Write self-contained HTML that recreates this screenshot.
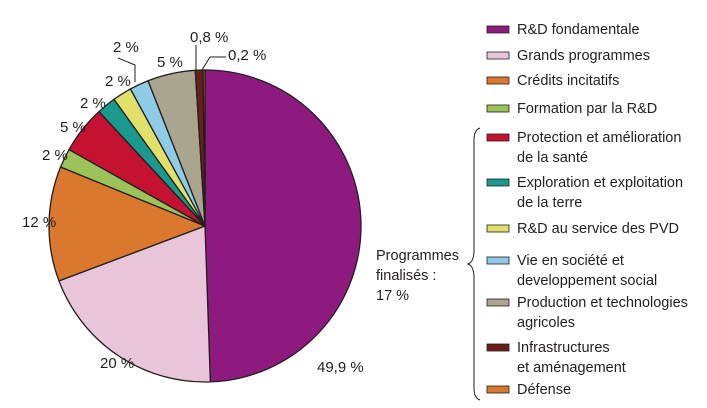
<!DOCTYPE html>
<html><head><meta charset="utf-8"><style>
body{margin:0;background:#fff;width:707px;height:403px;overflow:hidden}
svg text{font-family:"Liberation Sans",sans-serif;fill:#231f20}
</style></head><body>
<svg id="chart" width="707" height="403">
<g id="slices"></g>
<g id="labels" font-size="15"></g>
<g id="legend" font-size="14.5"></g>
<path d="M480,128 Q474,130 474,140 L474,250 Q474,262 468,264 Q474,266 474,278 L474,388 Q474,398 480,400" fill="none" stroke="#231f20" stroke-width="1"/>
<text x="376" y="260" font-size="14.5">Programmes</text>
<text x="376" y="280" font-size="14.5">finalisés :</text>
<text x="376" y="300" font-size="14.5">17 %</text>
</svg>
<script>
const categories=["R&D fondamentale","Grands programmes","Crédits incitatifs","Formation par la R&D","Protection et amélioration|de la santé","Exploration et exploitation|de la terre","R&D au service des PVD","Vie en société et|developpement social","Production et technologies|agricoles","Infrastructures|et aménagement","Défense"];
const values=[49.9,20,12,2,5,2,2,2,5,0.8,0.2];
const valueLabels=["49,9 %","20 %","12 %","2 %","5 %","2 %","2 %","2 %","5 %","0,8 %","0,2 %"];
const colors=["#8e1a7f","#e8c5d8","#d9782e","#9bc35a","#c41230","#1a9a8e","#e0e06a","#8ecbe6","#a9a58e","#6a1f1a","#d9782e"];
const legendY=[29,55,80,108,137,182,228,260,302,347,389];
const labelPos=[[317,372],[100,368],[22,227],[42,160],[60,132],[80,108],[105,86],[113,52],[157,67],[190,42],[228,60]];
const cx=205,cy=226,r=156;
const ns="http://www.w3.org/2000/svg";
const total=values.reduce((a,b)=>a+b,0);
function pt(a,rr){return [cx+rr*Math.sin(a),cy-rr*Math.cos(a)];}
let a0=0;
const gS=document.getElementById('slices'),gL=document.getElementById('labels'),gG=document.getElementById('legend');
values.forEach((v,i)=>{
 const a1=a0+v/total*2*Math.PI;
 const [x0,y0]=pt(a0,r),[x1,y1]=pt(a1,r);
 const p=document.createElementNS(ns,'path');
 p.setAttribute('d',`M${cx},${cy}L${x0},${y0}A${r},${r} 0 ${a1-a0>Math.PI?1:0} 1 ${x1},${y1}Z`);
 p.setAttribute('fill',colors[i]);p.setAttribute('stroke','#231f20');p.setAttribute('stroke-width','1.3');
 
 
 gS.appendChild(p);
 const t=document.createElementNS(ns,'text');
 t.setAttribute('x',labelPos[i][0]);t.setAttribute('y',labelPos[i][1]);t.textContent=valueLabels[i];
 
 
 gL.appendChild(t);
 const s=document.createElementNS(ns,'rect');
 s.setAttribute('x',487);s.setAttribute('y',legendY[i]-3);s.setAttribute('width',22);s.setAttribute('height',7);
 s.setAttribute('fill',colors[i]);s.setAttribute('stroke','#231f20');s.setAttribute('stroke-width','0.8');
 
 
 gG.appendChild(s);
 categories[i].split('|').forEach((ln,k)=>{
  const lt=document.createElementNS(ns,'text');
  lt.setAttribute('x',517);lt.setAttribute('y',legendY[i]+5+k*20);lt.textContent=ln;
  
  
  gG.appendChild(lt);
 });
 a0=a1;
});
[["M135,82 L135,65 L118,58"],["M196,70 L196,45"],["M202,70 L210,57 L226,57"]].forEach(d=>{
 const l=document.createElementNS(ns,'path');l.setAttribute('d',d[0]);l.setAttribute('fill','none');l.setAttribute('stroke','#231f20');
 
 
 gL.appendChild(l);
});
</script>
</body></html>
